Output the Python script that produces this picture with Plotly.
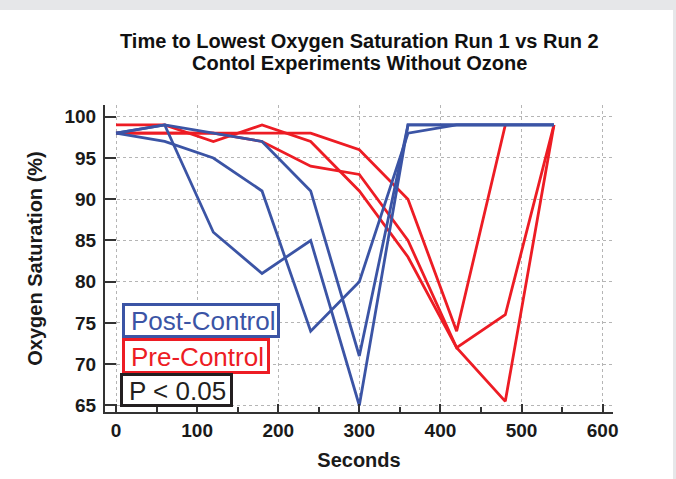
import plotly.graph_objects as go

# ---- data ----
seconds = [0, 60, 120, 180, 240, 300, 360, 420, 480, 540]

post_run_a = [98, 99, 86, 81, 85, 65, 99, 99, 99, 99]
post_run_b = [98, 97, 95, 91, 74, 80, 98, 99, 99, 99]
post_run_c = [98, 99, 98, 97, 91, 71, 99, 99, 99, 99]

pre_seconds_short = [0, 60, 120, 180, 240, 300, 360, 420, 480]
pre_run_a = [99, 99, 97, 99, 97, 91, 83, 72, 65.5, 99]
pre_run_b = [98, 98, 98, 98, 98, 96, 90, 74, 99]
pre_run_c = [98, 98, 98, 97, 94, 93, 85, 72, 76, 99]

title_lines = ["Time to Lowest Oxygen Saturation Run 1 vs Run 2",
               "Contol Experiments Without Ozone"]
legend_labels = ["Post-Control", "Pre-Control", "P < 0.05"]
x_ticks = [0, 100, 200, 300, 400, 500, 600]
y_ticks = [65, 70, 75, 80, 85, 90, 95, 100]

BLUE = "#3b54a5"
RED = "#ed1c24"
DARK = "#231f20"

W, H = 676, 479
L, R, T, B = 105, 63, 105, 67
PW, PH = W - L - R, H - T - B


def px_x(p):
    return (p - L) / PW


def px_y(p):
    return (H - B - p) / PH


fig = go.Figure()
for ys, xs in [(pre_run_b, pre_seconds_short), (pre_run_c, seconds), (pre_run_a, seconds)]:
    fig.add_trace(go.Scatter(x=xs, y=ys, mode="lines",
                             line=dict(color=RED, width=2.8), showlegend=False))
for ys in [post_run_a, post_run_b, post_run_c]:
    fig.add_trace(go.Scatter(x=seconds, y=ys, mode="lines",
                             line=dict(color=BLUE, width=2.8), showlegend=False))

tick_font = dict(family="Liberation Sans, Arial, sans-serif", size=19, color="#1a1a1a", weight="bold")

fig.update_xaxes(range=[-13.6, 612.8], tickvals=x_ticks, ticktext=[str(v) for v in x_ticks],
                 ticks="inside", ticklen=8, tickwidth=2, tickcolor="#333",
                 showline=True, linecolor="#333", linewidth=2,
                 showgrid=True, gridcolor="#b5b5b5", griddash="dot", gridwidth=1,
                 zeroline=False, tickfont=tick_font,
                 minor=dict(ticks="inside", ticklen=5, tickwidth=1.5, tickcolor="#333", dtick=50, tick0=0, showgrid=False),
                 title=dict(text="Seconds", font=dict(family="Liberation Sans, Arial, sans-serif", size=20, color="#1a1a1a", weight="bold"), standoff=13))
fig.update_yaxes(range=[64.21, 101.42], tickvals=y_ticks, ticktext=[str(v) for v in y_ticks],
                 ticks="inside", ticklen=11, tickwidth=2, tickcolor="#333",
                 showline=True, linecolor="#333", linewidth=2,
                 showgrid=True, gridcolor="#b5b5b5", griddash="dot", gridwidth=1,
                 zeroline=False, tickfont=tick_font, ticklabelstandoff=3,
                 title=dict(text="Oxygen Saturation (%)", font=dict(family="Liberation Sans, Arial, sans-serif", size=20, color="#1a1a1a", weight="bold"), standoff=16))

shapes = [
    # light grey frame strips
    dict(type="rect", xref="paper", yref="paper", x0=px_x(0), x1=px_x(W), y0=px_y(10), y1=px_y(0),
         fillcolor="#e6e7e9", line=dict(width=0), layer="above"),
    dict(type="rect", xref="paper", yref="paper", x0=px_x(673), x1=px_x(W), y0=px_y(H), y1=px_y(0),
         fillcolor="#e6e7e9", line=dict(width=0), layer="above"),
    # legend boxes
    dict(type="rect", xref="paper", yref="paper", x0=px_x(123.5), x1=px_x(278.5), y0=px_y(336.5), y1=px_y(304.5),
         fillcolor="white", line=dict(color=BLUE, width=3), layer="above"),
    dict(type="rect", xref="paper", yref="paper", x0=px_x(123.5), x1=px_x(268.5), y0=px_y(372.5), y1=px_y(339.5),
         fillcolor="white", line=dict(color=RED, width=3), layer="above"),
    dict(type="rect", xref="paper", yref="paper", x0=px_x(121.5), x1=px_x(231.5), y0=px_y(405.5), y1=px_y(374.5),
         fillcolor="white", line=dict(color=DARK, width=3), layer="above"),
]

legend_font = "Liberation Sans, Arial, sans-serif"
title_font = dict(family="Liberation Sans, Arial", size=20, color="#111", weight="bold")
annotations = [
    dict(text=legend_labels[0], x=px_x(129), y=px_y(321), xref="paper", yref="paper", xanchor="left", yanchor="middle",
         showarrow=False, font=dict(family=legend_font, size=26, color=BLUE)),
    dict(text=legend_labels[1], x=px_x(129), y=px_y(356.5), xref="paper", yref="paper", xanchor="left", yanchor="middle",
         showarrow=False, font=dict(family=legend_font, size=26, color=RED)),
    dict(text=legend_labels[2], x=px_x(127), y=px_y(390.5), xref="paper", yref="paper", xanchor="left", yanchor="middle",
         showarrow=False, font=dict(family=legend_font, size=26, color=DARK)),
    dict(text=title_lines[0], x=0.5, y=px_y(41), xref="paper", yref="paper", xanchor="center", yanchor="middle",
         showarrow=False, font=title_font),
    dict(text=title_lines[1], x=0.5, y=px_y(63), xref="paper", yref="paper", xanchor="center", yanchor="middle",
         showarrow=False, font=title_font),
]

fig.update_layout(width=W, height=H, margin=dict(l=L, r=R, t=T, b=B, autoexpand=False),
                  paper_bgcolor="white", plot_bgcolor="white",
                  shapes=shapes, annotations=annotations, showlegend=False)

fig.write_html("out.html", config={"displayModeBar": False},
               post_script="document.body.style.margin='0';document.body.style.padding='0';")
